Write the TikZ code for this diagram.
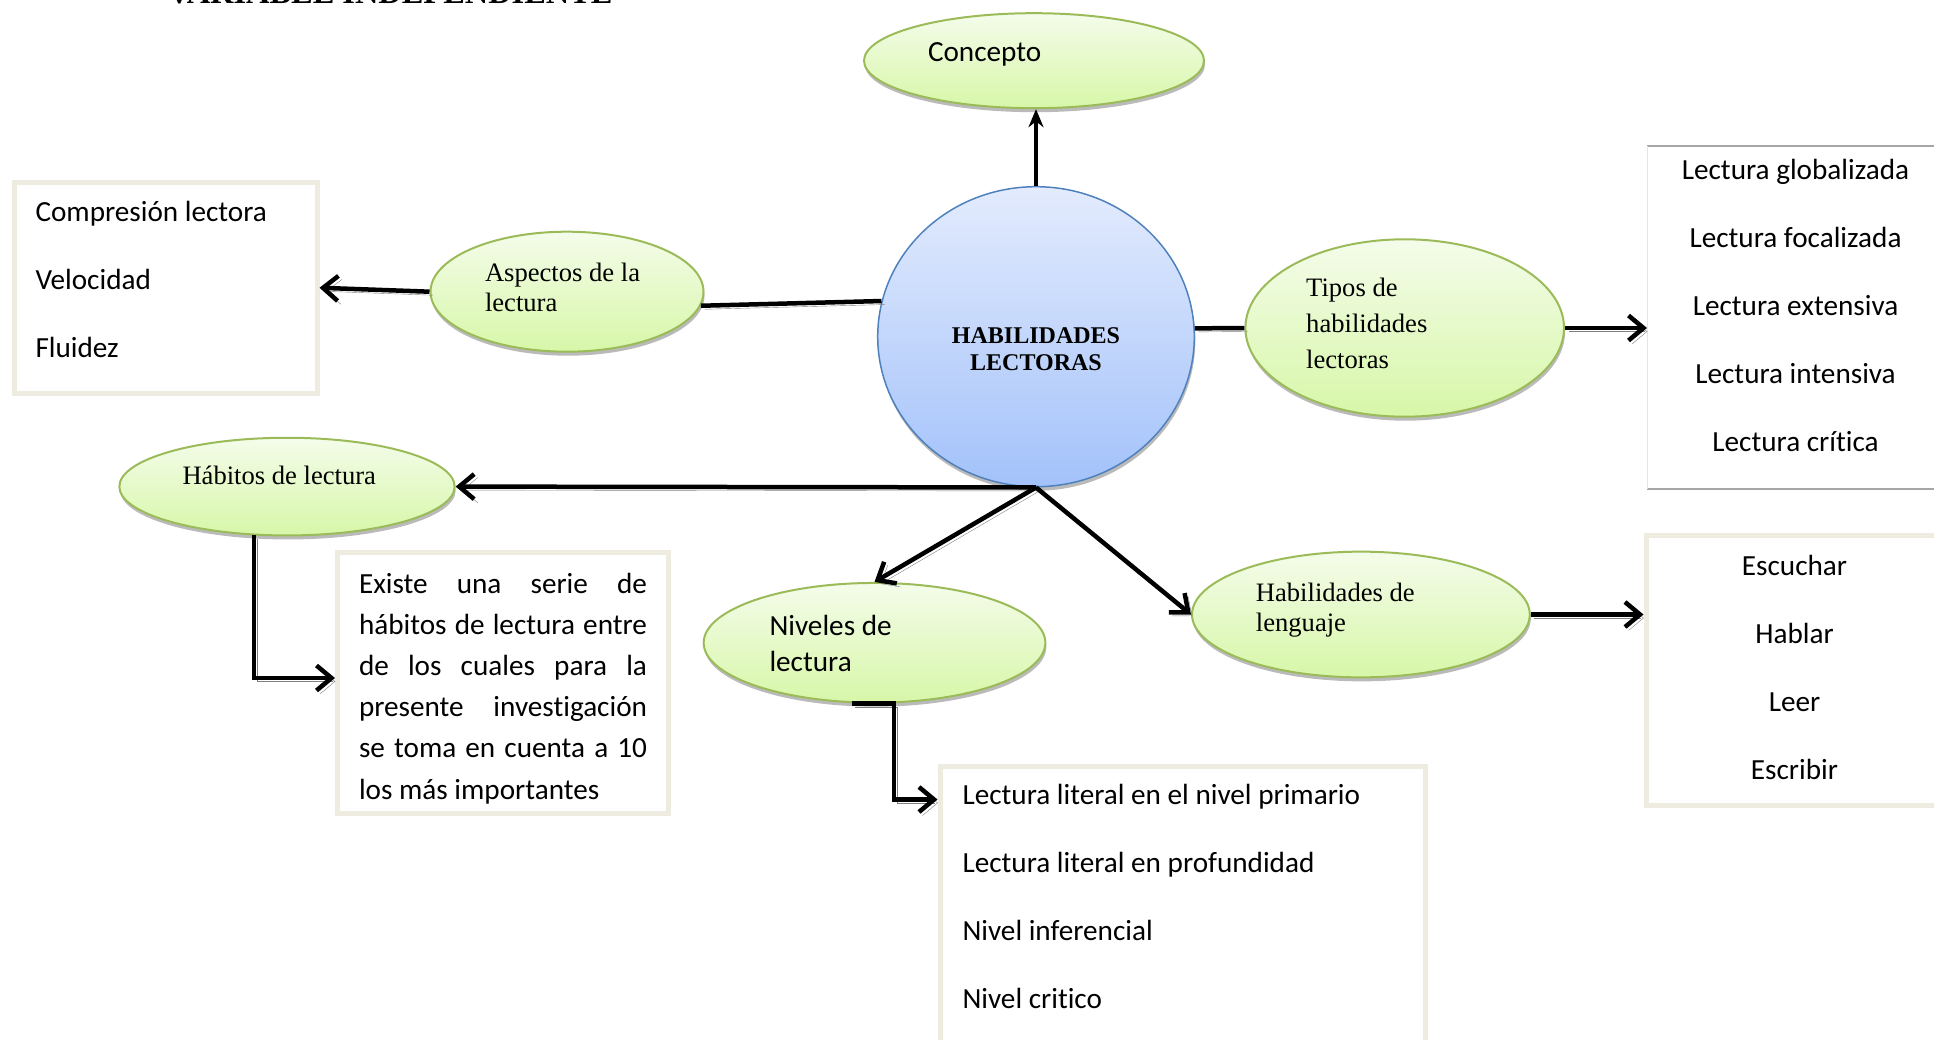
\documentclass[tikz,border=0pt]{standalone}
\usepackage{fontspec}
\setmainfont{Liberation Serif}
\newfontfamily\calibri[Ligatures=NoCommon]{Carlito}
\usepackage{tikz}
\usetikzlibrary{shapes.geometric,arrows.meta,shadows,calc}

\definecolor{ovalgreen}{HTML}{9BBB59}
\definecolor{ovaltop}{HTML}{F4FCEA}
\definecolor{ovalbottom}{HTML}{D7F7A8}
\definecolor{hubblue}{HTML}{4F81BD}
\definecolor{hubtop}{HTML}{E3EBFD}
\definecolor{hubbottom}{HTML}{A3C2FA}
\definecolor{boxframe}{HTML}{EEECE1}
\definecolor{boxrule}{HTML}{A6A6A6}

\newcommand{\tallstrut}[1]{\rule{0pt}{#1pt}}
\newcommand{\deepstrut}[1]{\rule[-#1pt]{0pt}{#1pt}}

\begin{document}
\begin{tikzpicture}[x=1pt, y=-1pt,
        greenoval/.style={ellipse, draw=ovalgreen, line width=2pt, top color=ovaltop, bottom color=ovalbottom, drop shadow={shadow xshift=1pt, shadow yshift=-4pt, fill=black!45, opacity=.6}, inner sep=0pt, align=flush left},
        huboval/.style={ellipse, draw=hubblue, line width=1.5pt, top color=hubtop, bottom color=hubbottom, drop shadow={shadow xshift=1pt, shadow yshift=-4pt, fill=black!45, opacity=.6}, inner sep=0pt, align=flush center},
        serif/.style={font=\fontsize{26.6}{#1}\selectfont},
        calibri/.style={font=\calibri\fontsize{29.2}{#1}\selectfont},
        listbox/.style={draw=boxframe, line width=5pt, inner sep=0pt, calibri=68},
        linkline/.style={line width=4.5pt, preaction={draw=black!50, transform canvas={xshift=3.5pt, yshift=-3.5pt}}},
        linkarrow/.style={-{Straight Barb[length=15pt, width=25pt]}}
        ]
            \useasboundingbox (0,0) rectangle (1934,1040);

            \node[anchor=base west, font=\bfseries\fontsize{32.4}{38}\selectfont] (title) at (164,4) {VARIABLE INDEPENDIENTE};

            \node[huboval, minimum width=316.6pt, minimum height=300pt, text width=180pt, font=\bfseries\fontsize{24}{27.7}\selectfont] (hab) at (1036,336.7) {\tallstrut{50}HABILIDADES\\LECTORAS\deepstrut{9.3}};

            \node[greenoval, minimum width=340pt, minimum height=95pt, text width=212pt, calibri=36] (concepto) at (1034,60.7) {\tallstrut{20}Concepto\deepstrut{17.4}};
            \node[greenoval, minimum width=273pt, minimum height=120pt, text width=164pt, serif=30] (aspectos) at (567,291.7) {\tallstrut{25}Aspectos de la\\lectura\deepstrut{15.2}};
            \node[greenoval, minimum width=318.6pt, minimum height=177.4pt, text width=197pt, serif=35.8] (tipos) at (1404.7,328) {\tallstrut{25}Tipos de\\habilidades\\lectoras\deepstrut{16}};
            \node[greenoval, minimum width=335.3pt, minimum height=97.7pt, text width=209pt, serif=30] (habitos) at (287,486.6) {\tallstrut{21}Hábitos de lectura\deepstrut{25.2}};
            \node[greenoval, minimum width=341.7pt, minimum height=119.7pt, text width=210pt, calibri=35.5] (niveles) at (874.5,642.8) {\tallstrut{30}Niveles de\\lectura\deepstrut{9.1}};
            \node[greenoval, minimum width=337.8pt, minimum height=125.7pt, text width=210pt, serif=30] (lenguaje) at (1360.9,614.5) {\tallstrut{25}Habilidades de\\lenguaje\deepstrut{20.8}};

            \node[listbox, minimum width=303pt, minimum height=210.5pt, text width=260pt, align=flush left] (aspbox) at (165.5,287.75) {\tallstrut{30}Compresión lectora\\Velocidad\\Fluidez\deepstrut{25.5}};
            \node[listbox, draw=none, outer sep=0pt, minimum width=297pt, minimum height=343pt, text width=260pt, align=flush center] (tiposbox) at (1795.5,317.5) {\tallstrut{30}Lectura globalizada\\Lectura focalizada\\Lectura extensiva\\Lectura intensiva\\Lectura crítica\deepstrut{33}};
            \node[listbox, minimum width=297pt, minimum height=270pt, text width=260pt, align=flush center] (lenbox) at (1794.5,670) {\tallstrut{30}Escuchar\\Hablar\\Leer\\Escribir\deepstrut{16}};
            \node[listbox, minimum width=331pt, minimum height=260.5pt, text width=288pt, align=justify, calibri=41.2] (exbox) at (503,683) {\tallstrut{40}Existe una serie de\linebreak hábitos de lectura entre\linebreak de los cuales para la\linebreak presente investigación\linebreak se toma en cuenta a 10\linebreak los más importantes\deepstrut{14}};
            \node[listbox, minimum width=485pt, minimum height=309pt, text width=440pt, align=flush left] (litbox) at (1182.5,920.5) {\tallstrut{30}Lectura literal en el nivel primario\\Lectura literal en profundidad\\Nivel inferencial\\Nivel critico\deepstrut{58}};

            \draw[boxrule, line width=2.5pt] (tiposbox.north west) -- (tiposbox.north east);
            \draw[boxrule, line width=2.5pt] (tiposbox.south west) -- (tiposbox.south east);
            \draw[black!10, line width=1pt] (tiposbox.north west) -- (tiposbox.south west);

            \draw[line width=4pt, -{Stealth[length=18pt, width=15pt]}] (hab.north) -- (hab.north |- concepto.south);
            \draw[linkline] (hab.167) -- (aspectos.-6);
            \draw[linkline, linkarrow] (aspectos.west) -- (aspbox.east);
            \draw[linkline] (hab.3) -- (tipos.west);
            \draw[linkline, linkarrow] (tipos.east) -- (tipos.east -| tiposbox.west);
            \draw[linkline, linkarrow] (hab.south) -- (habitos.east);
            \draw[linkline, linkarrow] (hab.south) -- (niveles.north);
            \draw[linkline, linkarrow] (hab.south) -- (lenguaje.west);
            \draw[linkline, linkarrow] (lenguaje.east) -- (lenguaje.east -| lenbox.west);
            \draw[linkline, linkarrow] (habitos.236) |- ($(exbox.west)+(0,-5)$);
            \draw[linkline, linkarrow] ($(niveles.south)+(-23,0)$) -- ($(niveles.south)+(19.5,0)$) |- ($(litbox.north west)+(0,36)$);

        \end{tikzpicture}
\end{document}
